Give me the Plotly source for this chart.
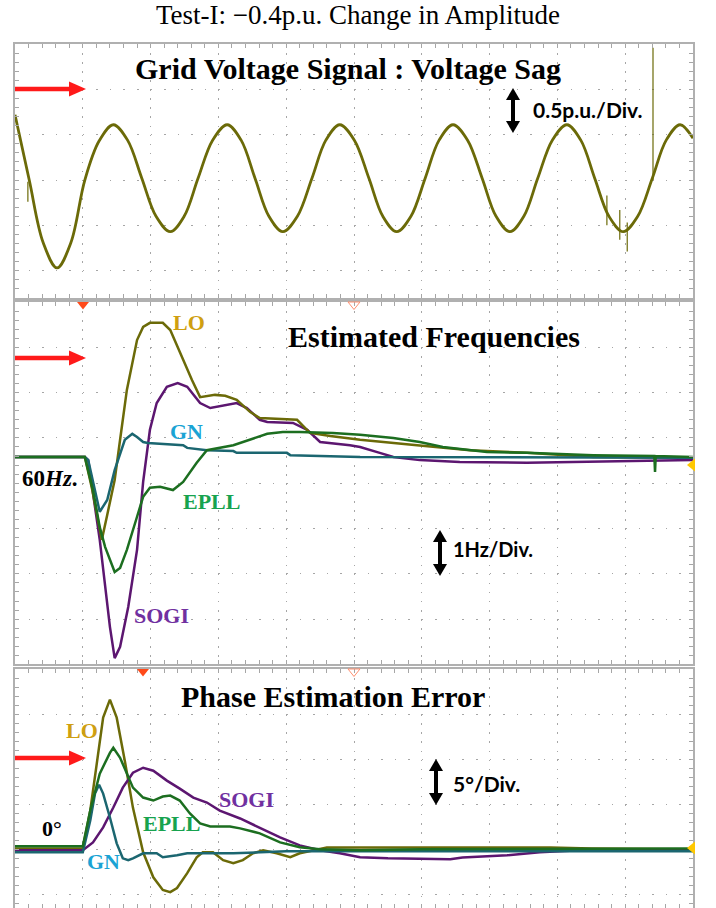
import plotly.graph_objects as go

W, H = 716, 908

# ---------------- data ----------------
# time base: 10 ms/div over 10 divisions
# Grid voltage (p.u.), 0.5 p.u./div
volt_t = [0.0, 2.1, 4.15, 6.2, 8.25, 10.3, 12.4, 14.5, 16.6, 18.7, 20.8, 22.9, 24.95,
          27.0, 29.15, 31.3, 33.35, 35.4, 37.45, 39.5, 41.65, 43.8, 45.85, 47.9, 50.05,
          52.2, 54.25, 56.3, 58.4, 60.5, 62.55, 64.6, 66.75, 68.9, 70.95, 73.0, 75.05,
          77.1, 79.25, 81.4, 83.45, 85.5, 87.6, 89.7, 91.85, 94.0, 96.05, 98.1, 100.0]
volt_v = [0.72, 0.0, -0.69, -0.97, -0.69, 0.0, 0.43, 0.61, 0.44, 0.02, -0.40, -0.57,
          -0.40, 0.02, 0.44, 0.61, 0.44, 0.02, -0.40, -0.57, -0.40, 0.02, 0.44, 0.61,
          0.44, 0.02, -0.40, -0.57, -0.40, 0.02, 0.44, 0.61, 0.44, 0.02, -0.40, -0.57,
          -0.40, 0.02, 0.44, 0.61, 0.44, 0.02, -0.40, -0.57, -0.40, 0.02, 0.44, 0.61,
          0.46]
# spikes on the voltage record
spike_t = [1.9, 87.3, 89.2, 90.3, 94.1]
spike_lo = [-0.24, -0.50, -0.66, -0.79, 0.0]
spike_hi = [-0.02, -0.17, -0.33, -0.47, 1.46]

# Estimated frequencies (Hz), 1 Hz/div
lo_f_t = [0, 10.0, 10.3, 11.4, 12.1, 12.8, 13.6, 14.7, 15.5, 16.5, 18.0, 18.9, 19.9,
          21.8, 22.9, 24.8, 26.1, 27.3, 29.5, 31.0, 32.7, 34.7, 36.1, 41.6, 43.5,
          46.5, 50.9, 59.3, 67.1, 75.5, 85.3, 100]
lo_f = [60, 60, 60, 59.27, 58.72, 58.17, 58.72, 59.49, 60.38, 61.48, 62.58, 62.87,
        62.96, 62.96, 62.80, 62.14, 61.70, 61.32, 61.37, 61.35, 61.26, 60.99, 60.86,
        60.82, 60.53, 60.46, 60.38, 60.26, 60.15, 60.09, 60.0, 59.98]

sogi_f_t = [0, 10.3, 10.8, 12.5, 14.0, 14.7, 15.5, 16.7, 18.0, 18.9, 19.9, 20.9, 22.4,
            24.0, 25.4, 27.3, 28.8, 31.3, 32.7, 34.2, 36.1, 37.2, 41.0, 43.1, 45.0,
            49.4, 50.9, 53.8, 55.8, 59.7, 65.6, 75.5, 85.3, 100]
sogi_f = [60, 60, 59.93, 58.17, 56.25, 55.56, 55.81, 56.69, 57.95, 59.45, 60.60,
          61.19, 61.55, 61.63, 61.55, 61.19, 61.08, 61.15, 61.19, 61.08, 60.82, 60.77,
          60.75, 60.60, 60.33, 60.26, 60.22, 60.09, 60.0, 59.93, 59.89, 59.87, 59.89,
          59.93]

gn_f_t = [0, 10.3, 10.8, 12.5, 13.6, 14.7, 16.2, 17.3, 18.0, 18.9, 19.6, 24.8, 25.4,
          28.3, 32.2, 32.7, 40.1, 40.6, 50.9, 100]
gn_f = [60, 60, 59.93, 58.79, 59.05, 59.71, 60.38, 60.51, 60.44, 60.33, 60.31, 60.26,
        60.20, 60.15, 60.13, 60.09, 60.09, 60.04, 60.0, 59.98]

epll_f_t = [0, 10.3, 11.5, 12.5, 13.3, 14.7, 15.5, 16.5, 18.0, 18.9, 19.9, 21.4, 23.3,
            24.8, 26.8, 28.3, 32.2, 34.7, 37.2, 39.5, 42.0, 46.9, 50.9, 55.8, 59.7,
            63.1, 69.6, 75.5, 85.3, 94.3, 94.4, 94.5, 100]
epll_f = [60, 60, 59.27, 58.45, 58.01, 57.46, 57.55, 57.95, 58.68, 59.12, 59.32, 59.34,
          59.27, 59.45, 59.87, 60.15, 60.26, 60.38, 60.51, 60.55, 60.55, 60.53, 60.49,
          60.42, 60.33, 60.22, 60.11, 60.09, 60.04, 60.02, 59.67, 60.02, 60.0]

# Phase estimation error (deg), 5 deg/div
lo_p_t = [0, 10.0, 11.1, 12.1, 13.0, 14.0, 15.0, 16.2, 17.4, 18.9, 20.4, 21.8, 22.9,
          23.9, 25.4, 26.8, 27.7, 29.2, 30.7, 32.2, 33.6, 35.1, 36.6, 38.6, 40.6, 42.0,
          46.0, 79.0, 85.0, 100]
lo_p = [0.1, 0.1, 4.3, 9.8, 14.6, 16.6, 14.6, 9.8, 4.6, -0.33, -3.1, -4.5, -4.75,
        -4.3, -2.65, -0.88, -0.33, -0.33, -1.2, -1.55, -1.2, -0.44, -0.1, -0.44, -0.88,
        -0.44, 0.2, 0.2, 0.1, 0.0]

sogi_p_t = [0, 10.0, 11.5, 13.0, 14.5, 15.9, 17.4, 18.9, 20.4, 22.4, 24.3, 26.3, 28.3,
            30.2, 33.2, 36.1, 39.1, 42.0, 45.0, 47.9, 50.9, 55.0, 64.2, 66.0, 72.6,
            77.4, 83.3, 100]
sogi_p = [-0.11, -0.11, 0.77, 2.43, 4.64, 6.84, 8.5, 9.05, 8.72, 7.62, 6.73, 5.74,
          5.19, 4.3, 3.42, 2.43, 1.32, 0.44, -0.11, -0.44, -0.88, -1.0, -1.1, -0.9,
          -0.66, -0.33, -0.11, -0.11]

gn_p_t = [0, 10.0, 11.1, 11.8, 12.4, 13.0, 14.0, 15.0, 15.9, 16.7, 17.4, 18.9, 20.9,
          21.8, 23.9, 25.4, 32.2, 40.0, 100]
gn_p = [-0.33, -0.33, 3.2, 6.18, 7.17, 6.18, 3.53, 0.66, -1.0, -1.2, -1.0, -0.44,
        -0.44, -0.88, -0.66, -0.44, -0.44, -0.22, -0.22]

epll_p_t = [0, 10.0, 11.1, 12.5, 14.0, 14.5, 15.5, 16.5, 17.4, 18.9, 20.4, 21.8, 22.9,
            24.3, 25.8, 27.3, 28.8, 31.7, 33.2, 36.1, 39.1, 42.0, 45.0, 50.9, 60.0, 100]
epll_p = [0.33, 0.33, 4.3, 8.4, 10.7, 11.26, 10.15, 8.4, 6.84, 5.74, 5.41, 5.85, 5.96,
          5.41, 3.97, 2.87, 2.54, 2.54, 2.32, 1.77, 0.77, 0.22, 0.0, -0.1, 0.0, 0.1]

# ---------------- styling ----------------
C_OLIVE = "#6b6a08"
C_PURPLE = "#5c1670"
C_TEAL = "#1b6670"
C_GREEN = "#1c6e20"
L_GOLD = "#cf9f12"
L_BLUE = "#1aa3d4"
L_GREEN = "#17a34f"
L_PURPLE = "#7030a0"
GRID = "#a6a6a6"
FRAME = "#b0b0b0"

X_DOM = [15 / W, 693 / W]
P1 = (44, 298)
P2 = (302, 664)
P3 = (669, 908)


def ydom(p):
    return [1 - p[1] / H, 1 - p[0] / H]


def px(x):
    return x / W


def py(y):
    return 1 - y / H


def xaxis_style(anchor):
    return dict(domain=X_DOM, range=[0, 100], anchor=anchor, showgrid=True,
                gridcolor=GRID, gridwidth=1.4, griddash="1.5px,7.56px",
                tick0=0, dtick=10, ticks="inside", ticklen=4, tickcolor=GRID,
                tickwidth=1, showline=True, linecolor=FRAME, linewidth=1.6,
                mirror="ticks", showticklabels=False, zeroline=False,
                minor=dict(ticks="inside", ticklen=4, tick0=0, dtick=2,
                           tickcolor=GRID, tickwidth=1, showgrid=False))


def yaxis_style(anchor, dom, rng, tick0, dtick):
    return dict(domain=dom, range=rng, anchor=anchor, showgrid=True,
                gridcolor=GRID, gridwidth=1.4, griddash="1.5px,12.06px",
                tick0=tick0, dtick=dtick, ticks="inside", ticklen=4,
                tickcolor=GRID, tickwidth=1, showline=True, linecolor=FRAME,
                linewidth=1.6, mirror="ticks", showticklabels=False,
                zeroline=False,
                minor=dict(ticks="inside", ticklen=4, tick0=tick0,
                           dtick=dtick / 5, tickcolor=GRID, tickwidth=1,
                           showgrid=False))


fig = go.Figure()

# panel 1: grid voltage
fig.add_trace(go.Scatter(x=volt_t, y=volt_v, mode="lines", xaxis="x", yaxis="y",
                         line=dict(color=C_OLIVE, width=2.8, shape="spline",
                                   smoothing=1.0)))
sx, sy = [], []
for t, lo, hi in zip(spike_t, spike_lo, spike_hi):
    sx += [t, t, None]
    sy += [lo, hi, None]
fig.add_trace(go.Scatter(x=sx, y=sy, mode="lines", xaxis="x", yaxis="y",
                         line=dict(color=C_OLIVE, width=1.2)))

# panel 2: frequencies
for tt, yy, c in [(sogi_f_t, sogi_f, C_PURPLE), (lo_f_t, lo_f, C_OLIVE),
                  (gn_f_t, gn_f, C_TEAL), (epll_f_t, epll_f, C_GREEN)]:
    fig.add_trace(go.Scatter(x=tt, y=yy, mode="lines", xaxis="x2", yaxis="y2",
                             line=dict(color=c, width=2.5)))

# panel 3: phase errors
for tt, yy, c in [(lo_p_t, lo_p, C_OLIVE), (sogi_p_t, sogi_p, C_PURPLE),
                  (gn_p_t, gn_p, C_TEAL), (epll_p_t, epll_p, C_GREEN)]:
    fig.add_trace(go.Scatter(x=tt, y=yy, mode="lines", xaxis="x3", yaxis="y3",
                             line=dict(color=c, width=2.5)))

# ---------------- decorations ----------------
shapes = []


def path_shape(pts, fill, line_color=None, lw=0):
    d = "M " + " L ".join(f"{px(x):.5f},{py(y):.5f}" for x, y in pts) + " Z"
    return dict(type="path", path=d, xref="paper", yref="paper",
                fillcolor=fill, line=dict(color=line_color or fill, width=lw),
                layer="above")


# red arrows on the left
for yc in (89, 358, 758):
    shapes.append(path_shape([(15, yc - 2.3), (71, yc - 2.3), (71, yc + 2.3),
                              (15, yc + 2.3)], "#ff1a1a"))
    shapes.append(path_shape([(69, yc - 7.5), (86, yc), (69, yc + 7.5)], "#ff1a1a"))

# black double arrows for scale
for xc, y0, y1 in ((513, 88, 133), (440, 530, 576), (436, 759, 805)):
    shapes.append(path_shape([(xc - 2, y0 + 10), (xc + 2, y0 + 10), (xc + 2, y1 - 10),
                              (xc - 2, y1 - 10)], "#000000"))
    shapes.append(path_shape([(xc - 7, y0 + 12), (xc, y0), (xc + 7, y0 + 12)], "#000000"))
    shapes.append(path_shape([(xc - 7, y1 - 12), (xc, y1), (xc + 7, y1 - 12)], "#000000"))

# trigger markers at the top of panels 2 and 3
for xc, yt in ((83, 302), (143, 669)):
    shapes.append(path_shape([(xc - 6, yt), (xc + 6, yt), (xc, yt + 7.5)], "#ff4a1a"))
for yt in (302, 669):
    shapes.append(path_shape([(348, yt), (360, yt), (354, yt + 7.5)],
                             "rgba(255,255,255,0)", "#ff9070", 1))
# ground level markers on the right edge
for yc in (465, 848):
    shapes.append(path_shape([(695, yc - 6.5), (687, yc), (695, yc + 6.5)], "#ffc800"))

annotations = []


def txt(x, y, s, size, color="#000000", family="Liberation Serif",
        xanchor="left", bold=True):
    annotations.append(dict(
        x=px(x), y=py(y), xref="paper", yref="paper", text=(f"<b>{s}</b>" if bold else s),
        showarrow=False, xanchor=xanchor, yanchor="middle",
        font=dict(size=size, color=color, family=family)))


txt(358, 15, "Test-I: \u22120.4p.u. Change in Amplitude", 27, xanchor="center", bold=False)
txt(348, 68, "Grid Voltage Signal : Voltage Sag", 30, xanchor="center")
txt(434, 337, "Estimated Frequencies", 30, xanchor="center")
txt(333, 696, "Phase Estimation Error", 30, xanchor="center")

txt(531, 110, "0.5p.u./Div.", 21, family="Lato")
txt(451, 549, "1Hz/Div.", 20, family="Lato")
txt(451, 783, "5\u00b0/Div.", 21, family="Lato")

txt(171, 323, "LO", 22, L_GOLD)
txt(168, 432, "GN", 22, L_BLUE)
txt(181, 501, "EPLL", 22, L_GREEN)
txt(132, 615, "SOGI", 22, L_PURPLE)
txt(20, 478, "60<i>Hz</i>.", 23)

txt(64, 730, "LO", 22, L_GOLD)
txt(141, 823, "EPLL", 22, L_GREEN)
txt(217, 799, "SOGI", 22, L_PURPLE)
txt(85, 861, "GN", 22, L_BLUE)
txt(40, 828, "0\u00b0", 22)

fig.update_layout(
    width=W, height=H, margin=dict(l=0, r=0, t=0, b=0),
    paper_bgcolor="white", plot_bgcolor="white", showlegend=False,
    xaxis=xaxis_style("y"), xaxis2=xaxis_style("y2"), xaxis3=xaxis_style("y3"),
    yaxis=yaxis_style("x", ydom(P1), [-1.302, 1.501], 0, 0.5),
    yaxis2=yaxis_style("x2", ydom(P2), [55.43, 63.42], 63.42, 1),
    yaxis3=yaxis_style("x3", ydom(P3), [-6.51, 20.0], 0, 5),
    shapes=shapes, annotations=annotations,
)

fig.write_html("out.html")
